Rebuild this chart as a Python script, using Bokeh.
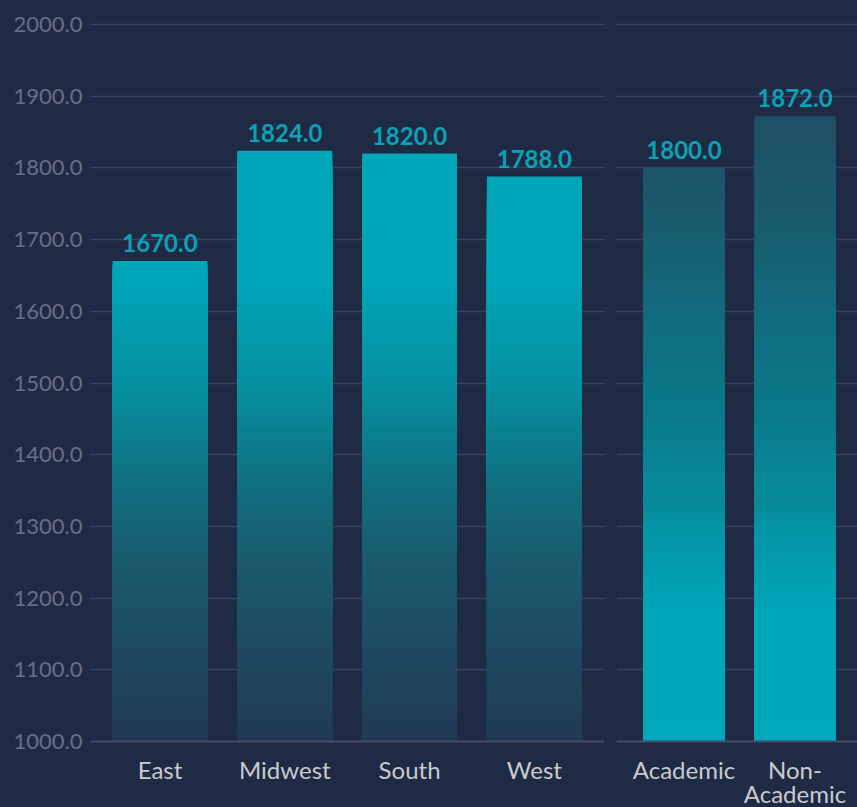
from bokeh.plotting import figure
from bokeh.layouts import row
from bokeh.models import Range1d, FixedTicker, PrintfTickFormatter, ColumnDataSource, Span
from bokeh.core.properties import value
from bokeh.embed import file_html
from bokeh.resources import INLINE

# ---------------- data ----------------
regions = ["East", "Midwest", "South", "West"]
region_values = [1670.0, 1824.0, 1820.0, 1788.0]
types = ["Academic", "Non-Academic"]
type_labels = ["Academic", "Non-\nAcademic"]
type_values = [1800.0, 1872.0]
y_ticks = [1000, 1100, 1200, 1300, 1400, 1500, 1600, 1700, 1800, 1900, 2000]
Y_MIN, Y_MAX = 1000, 2000

# ---------------- style ----------------
BG = "#1f2a44"
GRID = "#3c4260"
AXIS = "#464b67"
YLAB = "#6b6f86"
XLAB = "#c9cacf"
VAL = "#0aa2b5"
FONT = "Lato"
FIG_H = 807
FRAME_TOP = 14       # frame top border
TOP_PX = 24          # pixel row of Y_MAX
AXIS_PX = 741        # pixel row of the value axis baseline
UPP = (Y_MAX - Y_MIN) / (AXIS_PX - TOP_PX)   # data units per pixel
Y_LOW = Y_MIN - (FIG_H - AXIS_PX) * UPP
Y_HIGH = Y_MAX + (TOP_PX - FRAME_TOP) * UPP

LEFT_STOPS = [(1000, "#223a55"), (1130, "#1e4a61"), (1250, "#1a5a6e"), (1370, "#0f7282"),
              (1490, "#068f9f"), (1640, "#00a5b8"), (2000, "#00a5b8")]
RIGHT_STOPS = [(1000, "#00a8b9"), (1180, "#00a5b8"), (1300, "#0494a6"), (1335, "#078696"),
               (1350, "#078a9b"), (1460, "#0a7a8a"), (1600, "#126b7d"), (1750, "#1b586c"),
               (1900, "#1f4e63"), (2000, "#1f4e63")]
STEP = 4.0


def hex2rgb(h):
    h = h.lstrip("#")
    return tuple(int(h[i:i + 2], 16) for i in (0, 2, 4))


def color_at(y, stops):
    for (y0, c0), (y1, c1) in zip(stops[:-1], stops[1:]):
        if y0 <= y <= y1:
            t = (y - y0) / (y1 - y0) if y1 > y0 else 0
            a, b = hex2rgb(c0), hex2rgb(c1)
            r = [round(a[k] + (b[k] - a[k]) * t) for k in range(3)]
            return "#%02x%02x%02x" % tuple(r)
    return stops[-1][1] if y > stops[-1][0] else stops[0][1]


def band_source(vals, stops):
    xs, tops, cols = [], [], []
    for i, v in enumerate(vals):
        top = v
        while top > Y_MIN:
            xs.append(i + 0.5)
            tops.append(top)
            cols.append(color_at(max(top - STEP / 2, Y_MIN), stops))
            top -= STEP
    order = sorted(range(len(tops)), key=lambda k: -tops[k])
    return ColumnDataSource(dict(x=[xs[k] for k in order], top=[tops[k] for k in order],
                                 color=[cols[k] for k in order]))


def make_fig(cats, labels, vals, stops, width, x0, x1, bar_w, show_y, mb_left, mb_right):
    p = figure(width=width, height=FIG_H, output_backend="svg", toolbar_location=None,
               x_range=Range1d(x0, x1), y_range=Range1d(Y_LOW, Y_HIGH),
               min_border_left=mb_left, min_border_right=mb_right,
               min_border_top=FRAME_TOP, min_border_bottom=0)
    p.background_fill_color = BG
    p.border_fill_color = BG
    p.outline_line_color = None
    p.xgrid.visible = False
    p.ygrid.ticker = FixedTicker(ticks=y_ticks[1:])
    p.ygrid.grid_line_color = GRID
    p.ygrid.grid_line_width = 1.5

    src = band_source(vals, stops)
    p.vbar(x="x", top="top", bottom=Y_MIN, width=bar_w, source=src,
           fill_color="color", line_color=None)

    # category axis baseline
    p.add_layout(Span(location=Y_MIN, dimension="width", line_color=AXIS, line_width=2))

    # value labels
    p.text(x=[i + 0.5 for i in range(len(cats))], y=vals,
           text=["%.1f" % v for v in vals], text_align="center", text_baseline="bottom",
           y_offset=-9, text_color=VAL, text_font=value(FONT), text_font_size="24px",
           text_font_style="bold")

    # category labels
    p.text(x=[i + 0.5 for i in range(len(cats))], y=[Y_MIN] * len(cats), text=labels,
           text_align="center", text_baseline="top", y_offset=13, text_color=XLAB,
           text_font=value(FONT), text_font_size="24px", text_line_height=0.86)

    p.xaxis.visible = False

    ya = p.yaxis[0]
    if show_y:
        ya.ticker = FixedTicker(ticks=y_ticks)
        ya.formatter = PrintfTickFormatter(format="%.1f")
        ya.axis_line_color = None
        ya.major_tick_line_color = None
        ya.minor_tick_line_color = None
        ya.major_tick_out = 0
        ya.major_tick_in = 0
        ya.major_label_standoff = 8
        ya.major_label_text_color = YLAB
        ya.major_label_text_font = FONT
        ya.major_label_text_font_size = "22px"
    else:
        ya.visible = False
    return p


left = make_fig(regions, regions, region_values, LEFT_STOPS, 610, -0.057, 4.062, 0.76,
                True, 90, 6)
right = make_fig(types, type_labels, type_values, RIGHT_STOPS, 247, -0.108, 2.063, 0.73,
                 False, 6, 0)

layout = row(left, right, spacing=0)
layout.styles = {"background-color": BG}

html = file_html(layout, INLINE)
html = html.replace("<body>", '<body style="background-color:#1f2a44;">', 1)
open("out.html", "w").write(html)
